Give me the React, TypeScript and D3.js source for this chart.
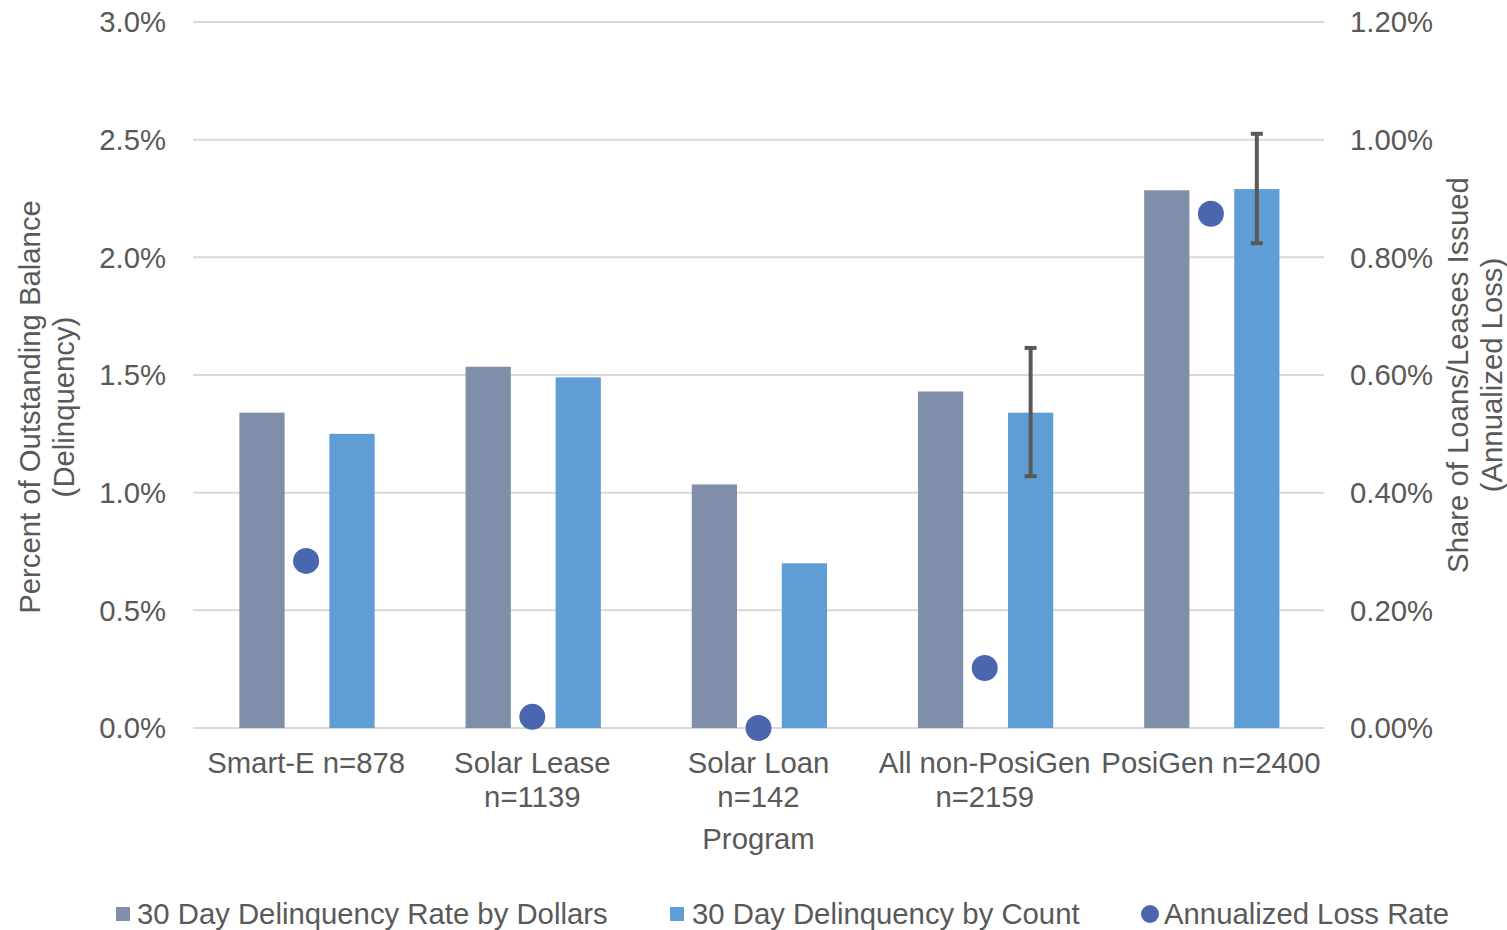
import { useEffect, useRef } from 'react';
import * as d3 from 'd3';

const categories = [
  ['Smart-E n=878'],
  ['Solar Lease', 'n=1139'],
  ['Solar Loan', 'n=142'],
  ['All non-PosiGen', 'n=2159'],
  ['PosiGen n=2400'],
];
const byDollars = [1.34, 1.535, 1.035, 1.43, 2.285];
const byCount = [1.25, 1.49, 0.70, 1.34, 2.29];
const countErrLow = [null, null, null, 1.07, 2.06];
const countErrHigh = [null, null, null, 1.615, 2.525];
const lossRate = [0.284, 0.019, 0.0, 0.102, 0.874];
const leftTicks = [0, 0.5, 1.0, 1.5, 2.0, 2.5, 3.0];
const rightTicks = [0, 0.2, 0.4, 0.6, 0.8, 1.0, 1.2];

const W = 1507;
const H = 930;
const FONT = '"Liberation Sans", Arial, sans-serif';
const FS = 29.3;
const TXT = '#595959';
const C_DOLLAR = '#7F8FA9';
const C_COUNT = '#5F9ED4';
const C_DOT = '#4966AE';

export default function App() {
  const ref = useRef<SVGSVGElement>(null);

  useEffect(() => {
    if (!ref.current) return;
    const svg = d3.select(ref.current);
    svg.selectAll('*').remove();

    const left = 193, right = 1324, top = 22, bottom = 728;
    const x = d3.scaleBand<number>().domain(d3.range(categories.length)).range([left, right]);
    const yL = d3.scaleLinear().domain([0, 3]).range([bottom, top]);
    const yR = d3.scaleLinear().domain([0, 1.2]).range([bottom, top]);
    const bw = x.bandwidth();
    const barW = bw * 0.2;

    // gridlines
    svg.append('g').selectAll('line').data(leftTicks).join('line')
      .attr('x1', left).attr('x2', right)
      .attr('y1', (d) => yL(d)).attr('y2', (d) => yL(d))
      .attr('stroke', '#D9D9D9').attr('stroke-width', 2);

    // left ticks
    svg.append('g').selectAll('text').data(leftTicks).join('text')
      .attr('x', 166).attr('y', (d) => yL(d)).attr('dy', '0.35em')
      .attr('text-anchor', 'end').attr('fill', TXT).attr('font-size', FS).attr('font-family', FONT)
      .text((d) => d.toFixed(1) + '%');

    // right ticks
    svg.append('g').selectAll('text').data(rightTicks).join('text')
      .attr('x', 1350).attr('y', (d) => yR(d)).attr('dy', '0.35em')
      .attr('text-anchor', 'start').attr('fill', TXT).attr('font-size', FS).attr('font-family', FONT)
      .text((d) => d.toFixed(2) + '%');

    const idx = d3.range(categories.length);
    const bars = svg.append('g');
    bars.selectAll('rect.d').data(idx).join('rect').attr('class', 'd')
      .attr('x', (i) => (x(i) as number) + bw * 0.205)
      .attr('y', (i) => yL(byDollars[i]))
      .attr('width', barW)
      .attr('height', (i) => yL(0) - yL(byDollars[i]))
      .attr('fill', C_DOLLAR);
    bars.selectAll('rect.c').data(idx).join('rect').attr('class', 'c')
      .attr('x', (i) => (x(i) as number) + bw * 0.603)
      .attr('y', (i) => yL(byCount[i]))
      .attr('width', barW)
      .attr('height', (i) => yL(0) - yL(byCount[i]))
      .attr('fill', C_COUNT);

    // error bars
    const errIdx = idx.filter((i) => countErrLow[i] != null);
    const eg = svg.append('g').attr('stroke', '#595959').attr('stroke-width', 4);
    errIdx.forEach((i) => {
      const cx = (x(i) as number) + bw * 0.603 + barW / 2;
      const lo = yL(countErrLow[i] as number), hi = yL(countErrHigh[i] as number);
      eg.append('line').attr('x1', cx).attr('x2', cx).attr('y1', lo).attr('y2', hi);
      eg.append('line').attr('x1', cx - 6).attr('x2', cx + 6).attr('y1', lo).attr('y2', lo);
      eg.append('line').attr('x1', cx - 6).attr('x2', cx + 6).attr('y1', hi).attr('y2', hi);
    });

    // loss dots
    svg.append('g').selectAll('circle').data(idx).join('circle')
      .attr('cx', (i) => (x(i) as number) + bw / 2)
      .attr('cy', (i) => yR(lossRate[i]))
      .attr('r', 13).attr('fill', C_DOT);

    // category labels
    const cl = svg.append('g').attr('fill', TXT).attr('font-size', FS).attr('font-family', FONT).attr('text-anchor', 'middle');
    idx.forEach((i) => {
      categories[i].forEach((line, j) => {
        cl.append('text').attr('x', (x(i) as number) + bw / 2).attr('y', 773 + j * 34).text(line);
      });
    });
    cl.append('text').attr('x', (left + right) / 2).attr('y', 849).text('Program');

    // axis titles
    const lt = svg.append('text').attr('transform', 'translate(40,407) rotate(-90)')
      .attr('fill', TXT).attr('font-size', FS).attr('font-family', FONT).attr('text-anchor', 'middle');
    lt.append('tspan').attr('x', 0).attr('y', 0).text('Percent of Outstanding Balance');
    lt.append('tspan').attr('x', 0).attr('y', 34).text('(Delinquency)');

    const rt = svg.append('text').attr('transform', 'translate(1468,375) rotate(-90)')
      .attr('fill', TXT).attr('font-size', FS).attr('font-family', FONT).attr('text-anchor', 'middle');
    rt.append('tspan').attr('x', 0).attr('y', 0).text('Share of Loans/Leases Issued');
    rt.append('tspan').attr('x', 0).attr('y', 34).text('(Annualized Loss)');

    // legend
    const lg = svg.append('g').attr('font-size', FS).attr('font-family', FONT).attr('fill', TXT);
    lg.append('rect').attr('x', 116).attr('y', 907).attr('width', 14).attr('height', 14).attr('fill', C_DOLLAR);
    lg.append('text').attr('x', 137).attr('y', 924).text('30 Day Delinquency Rate by Dollars');
    lg.append('rect').attr('x', 670).attr('y', 907).attr('width', 14).attr('height', 14).attr('fill', C_COUNT);
    lg.append('text').attr('x', 692).attr('y', 924).text('30 Day Delinquency by Count');
    lg.append('circle').attr('cx', 1150).attr('cy', 914).attr('r', 9).attr('fill', C_DOT);
    lg.append('text').attr('x', 1164).attr('y', 924).text('Annualized Loss Rate');
  }, []);

  return (
    <svg ref={ref} width={W} height={H} style={{ position: 'absolute', left: 0, top: 0, background: '#fff' }} />
  );
}
